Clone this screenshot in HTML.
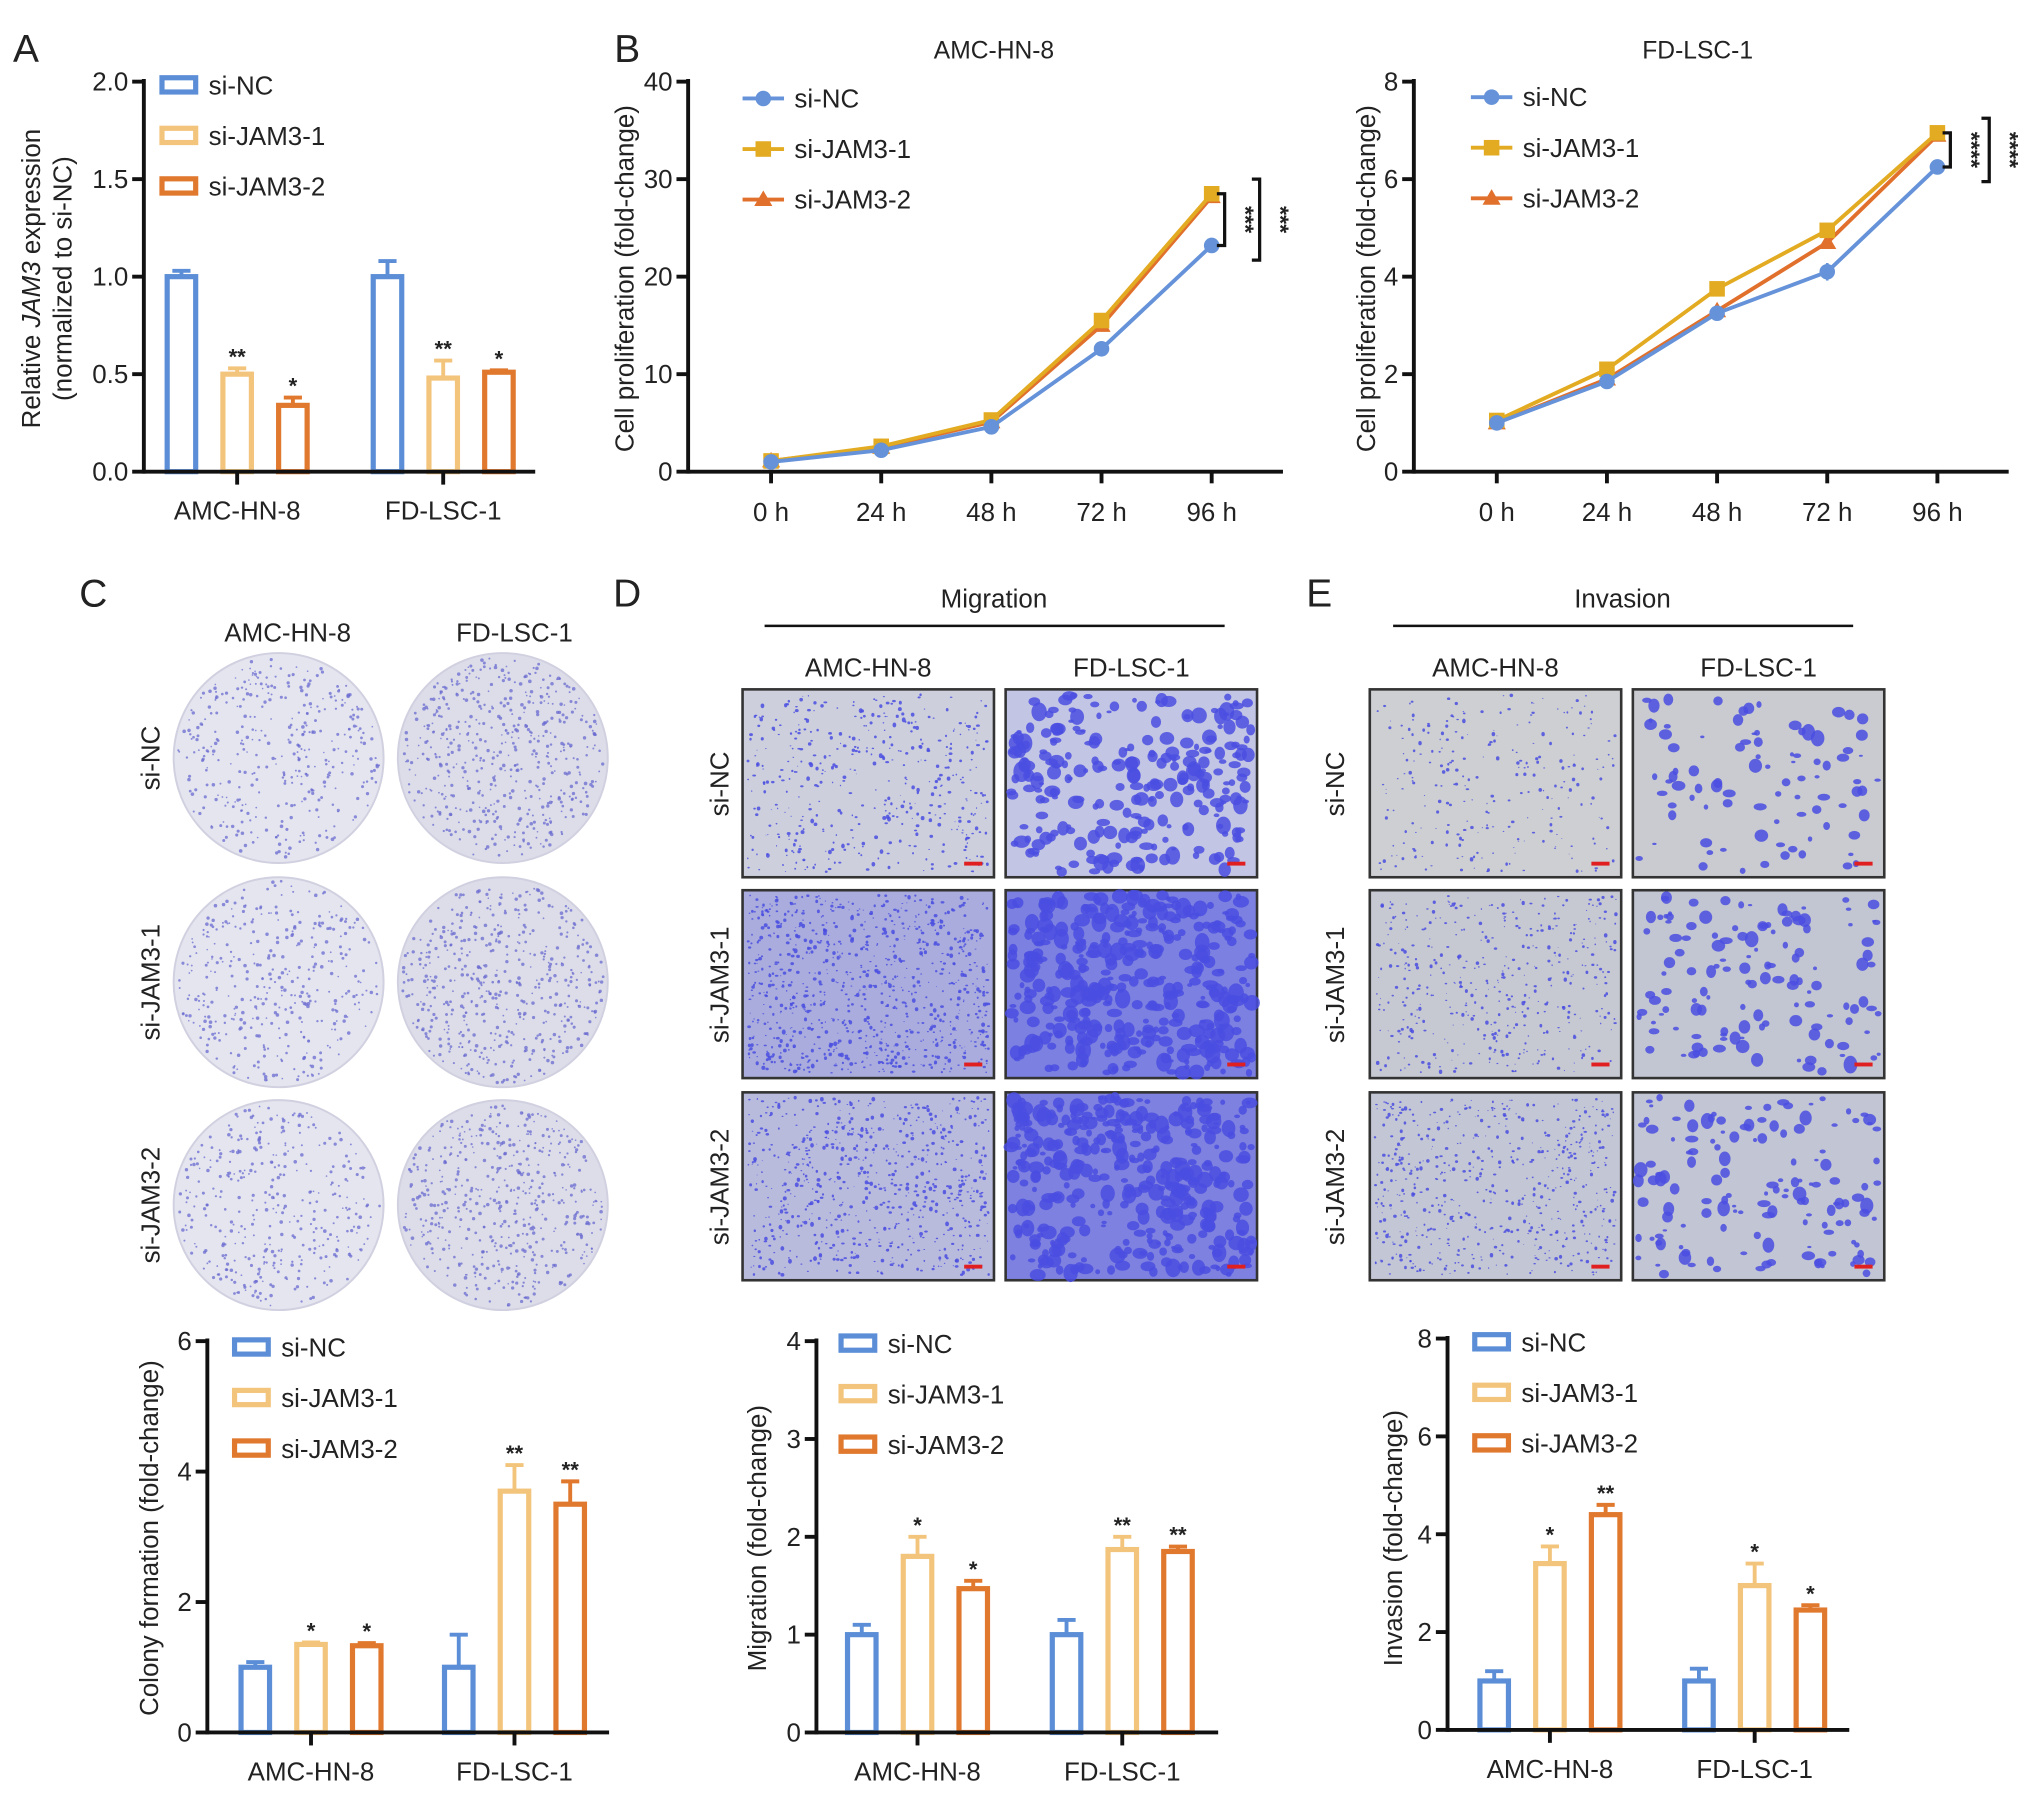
<!DOCTYPE html>
<html><head><meta charset="utf-8"><style>
html,body{margin:0;padding:0;background:#fff}
svg{display:block}
text{font-family:"Liberation Sans",Arial,sans-serif;fill:#222}
</style></head><body>
<svg id="fig" xmlns="http://www.w3.org/2000/svg" width="2032" height="1818" viewBox="0 0 1568 1403" preserveAspectRatio="none">
<rect width="1568" height="1403" fill="#fff"/>
</svg>
<script>
// ---------- DATA ----------
const groups = ["si-NC","si-JAM3-1","si-JAM3-2"];
const cellLines = ["AMC-HN-8","FD-LSC-1"];
// Panel A
const aNC=[1.0,1.0], aJ1=[0.50,0.48], aJ2=[0.34,0.51];
const aErrNC=[1.03,1.08], aErrJ1=[0.53,0.57], aErrJ2=[0.38,0.52];
const aStars=[["","**","*"],["","**","*"]];
const aTicks=["0.0","0.5","1.0","1.5","2.0"];
// Panel B
const timeLabels=["0 h","24 h","48 h","72 h","96 h"];
const bAmcNC=[1.0,2.2,4.6,12.6,23.2], bAmcJ1=[1.1,2.6,5.3,15.5,28.5], bAmcJ2=[1.1,2.5,5.1,15.0,28.2];
const bFdNC=[1.0,1.85,3.25,4.1,6.25], bFdJ1=[1.05,2.1,3.75,4.95,6.95], bFdJ2=[1.0,1.9,3.3,4.7,6.9];
const bFdErrNC=[0.05,0.06,0.07,0.18,0.08];
const bAmcTicks=["0","10","20","30","40"], bFdTicks=["0","2","4","6","8"];
// Panel C bars
const cNC=[1.0,1.0], cJ1=[1.35,3.7], cJ2=[1.33,3.5];
const cErrNC=[1.08,1.5], cErrJ1=[1.38,4.1], cErrJ2=[1.37,3.85];
const cStars=[["","*","*"],["","**","**"]];
const cTicks=["0","2","4","6"];
// Panel D bars
const dNC=[1.0,1.0], dJ1=[1.8,1.87], dJ2=[1.47,1.85];
const dErrNC=[1.1,1.15], dErrJ1=[2.0,2.0], dErrJ2=[1.55,1.9];
const dStars=[["","*","*"],["","**","**"]];
const dTicks=["0","1","2","3","4"];
// Panel E bars
const eNC=[1.0,1.0], eJ1=[3.4,2.95], eJ2=[4.4,2.45];
const eErrNC=[1.2,1.25], eErrJ1=[3.75,3.4], eErrJ2=[4.6,2.55];
const eStars=[["","*","**"],["","*","*"]];
const eTicks=["0","2","4","6","8"];

const COL=["#5b8ed6","#f3c47c","#e0782e"];
const LCOL=["#6592d8","#e2ab22","#e0702c"];
const svg=document.getElementById('fig');
const NS="http://www.w3.org/2000/svg";

function el(tag,attrs,parent){
  const e=document.createElementNS(NS,tag);
  for(const k in attrs)e.setAttribute(k,attrs[k]);
  (parent||svg).appendChild(e);return e;
}
function txt(s,x,y,size,name,opts){
  opts=opts||{};
  const t=el('text',{x:x,y:y,'font-size':size,'text-anchor':opts.anchor||'middle'},opts.parent);
  if(opts.rot)t.setAttribute('transform',`rotate(${opts.rot} ${x} ${y})`);
  if(opts.weight)t.setAttribute('font-weight',opts.weight);
  t.textContent=s;
  
  
  return t;
}
function line(x1,y1,x2,y2,w,c,name,parent){
  const l=el('line',{x1:x1,y1:y1,x2:x2,y2:y2,stroke:c||'#111','stroke-width':w||3},parent);
  
  
  return l;
}
function group(name){
  const g=el('g',{});
  
  
  return g;
}

// ---------- BAR CHART ----------
function barChart(o){
  const g=group(o.name);
  const ys=v=>o.yBot-(v/o.ymax)*(o.yBot-o.yTop);
  const series=[o.nc,o.j1,o.j2], errs=[o.eNC,o.eJ1,o.eJ2];
  for(let s=0;s<3;s++){
    const ly=o.legY+s*o.legDy;
    const r=el('rect',{x:o.legX,y:ly-6,width:26,height:11,fill:'#fff',stroke:COL[s],'stroke-width':4},g);
    
    
    txt(groups[s],o.legX+36,ly+7,20,'legend-label-'+groups[s],{anchor:'start',parent:g});
  }
  for(let c=0;c<2;c++){
    for(let s=0;s<3;s++){
      const cx=o.cx[c]+(s-1)*43;
      const top=ys(series[s][c]);
      const et=ys(errs[s][c]);
      line(cx,top,cx,et,3,COL[s],'error-bar',g);
      line(cx-7,et,cx+7,et,3,COL[s],'error-cap',g);
      const b=el('rect',{x:cx-11,y:top,width:22,height:o.yBot-top,fill:'#fff',stroke:COL[s],'stroke-width':4},g);
      
      
      const st=o.stars[c][s];
      if(st)txt(st,cx,et-3,17,'significance-stars',{parent:g,weight:'bold'});
    }
    line(o.cx[c],o.yBot,o.cx[c],o.yBot+10,3,'#111','x-tick',g);
    txt(cellLines[c],o.cx[c],o.yBot+37,20,'x-tick-label',{parent:g});
  }
  line(o.x0,o.yTop-2,o.x0,o.yBot+1.5,3,'#111','y-axis',g);
  line(o.x0,o.yBot,o.xEnd,o.yBot,3,'#111','x-axis',g);
  o.ticks.forEach((t,i)=>{
    const v=parseFloat(t), y=ys(v);
    line(o.x0-9,y,o.x0,y,3,'#111','y-tick',g);
    txt(t,o.x0-12,y+7,20,'y-tick-label',{anchor:'end',parent:g});
  });
  return g;
}

// ---------- LINE CHART ----------
function lineChart(o){
  const g=group(o.name);
  const ys=v=>o.yBot-(v/o.ymax)*(o.yBot-o.yTop);
  const xs=i=>o.xStart+i*o.dx;
  txt(o.title,o.titleX,45,19,'chart-title',{parent:g});
  line(o.x0,o.yTop-2,o.x0,o.yBot+1.5,3,'#111','y-axis',g);
  line(o.x0,o.yBot,o.xEnd,o.yBot,3,'#111','x-axis',g);
  o.ticks.forEach(t=>{
    const y=ys(parseFloat(t));
    line(o.x0-9,y,o.x0,y,3,'#111','y-tick',g);
    txt(t,o.x0-12,y+7,20,'y-tick-label',{anchor:'end',parent:g});
  });
  timeLabels.forEach((t,i)=>{
    line(xs(i),o.yBot,xs(i),o.yBot+9,3,'#111','x-tick',g);
    txt(t,xs(i),o.yBot+38,20,'x-tick-label',{parent:g});
  });
  const ser=[o.nc,o.j1,o.j2];
  for(let s=2;s>=0;s--){
    const pts=ser[s].map((v,i)=>xs(i)+','+ys(v)).join(' ');
    const p=el('polyline',{points:pts,fill:'none',stroke:LCOL[s],'stroke-width':3},g);
    
    
    ser[s].forEach((v,i)=>marker(s,xs(i),ys(v),g));
  }
  if(o.errNC){o.errNC.forEach((e,i)=>{const v=o.nc[i];line(xs(i),ys(v-e),xs(i),ys(v+e),2,LCOL[0],'error-bar',g);});}
  for(let s=0;s<3;s++){
    const ly=o.legY+s*39;
    line(o.legX,ly,o.legX+32,ly,3,LCOL[s],'legend-line',g);
    marker(s,o.legX+16,ly,g);
    txt(groups[s],o.legX+40,ly+7,20,'legend-label-'+groups[s],{anchor:'start',parent:g});
  }
  o.brackets.forEach(b=>{
    const y1=ys(b.a), y2=ys(b.b);
    const pth=el('path',{d:`M${b.x-6},${y1} H${b.x} V${y2} H${b.x-6}`,fill:'none',stroke:'#111','stroke-width':2.5},g);
    
    
    txt(b.s,b.x+10,(y1+y2)/2,18,'significance-stars',{rot:90,parent:g,weight:'bold'});
  });
}
function marker(s,x,y,g){
  let m;
  if(s===0)m=el('circle',{cx:x,cy:y,r:6,fill:LCOL[0]},g);
  else if(s===1)m=el('rect',{x:x-6,y:y-6,width:12,height:12,fill:LCOL[1]},g);
  else m=el('polygon',{points:`${x},${y-7} ${x+7},${y+5} ${x-7},${y+5}`,fill:LCOL[2]},g);
  
  
}

// ---------- PANEL LETTERS ----------
[["A",20,48],["B",484,48],["C",72,468],["D",484,468],["E",1018,468]].forEach(p=>txt(p[0],p[1],p[2],30,'panel-label-'+p[0]));

// Panel A
barChart({name:'panel-a-chart',x0:111,yTop:63,yBot:364,xEnd:413,ymax:2,ticks:aTicks,cx:[183,342],
  nc:aNC,j1:aJ1,j2:aJ2,eNC:aErrNC,eJ1:aErrJ1,eJ2:aErrJ2,stars:aStars,legX:125,legY:66,legDy:39});
{const t=txt('',31,215,20,'y-axis-title',{rot:-90});
 t.innerHTML='Relative <tspan font-style="italic">JAM3</tspan> expression';
 txt('(normalized to si-NC)',55,215,20,'y-axis-title-line2',{rot:-90});}

// Panel B
lineChart({name:'panel-b-amc-chart',title:'AMC-HN-8',titleX:767,x0:531,yTop:63,yBot:364,xEnd:990,ymax:40,ticks:bAmcTicks,
  xStart:595,dx:85,nc:bAmcNC,j1:bAmcJ1,j2:bAmcJ2,legX:573,legY:76,
  brackets:[{x:945,a:bAmcJ1[4],b:bAmcNC[4],s:'***'},{x:972,a:bAmcJ1[4]+1.5,b:bAmcNC[4]-1.5,s:'***'}]});
txt('Cell proliferation (fold-change)',489,215,20,'y-axis-title',{rot:-90});
lineChart({name:'panel-b-fd-chart',title:'FD-LSC-1',titleX:1310,x0:1091,yTop:63,yBot:364,xEnd:1550,ymax:8,ticks:bFdTicks,
  xStart:1155,dx:85,nc:bFdNC,j1:bFdJ1,j2:bFdJ2,errNC:bFdErrNC,legX:1135,legY:75,
  brackets:[{x:1505,a:bFdJ1[4],b:bFdNC[4],s:'****'},{x:1535,a:bFdJ1[4]+0.3,b:bFdNC[4]-0.3,s:'****'}]});
txt('Cell proliferation (fold-change)',1061,215,20,'y-axis-title',{rot:-90});

// ---------- PHOTOS ----------
let seed=7;function rnd(){seed=(seed*16807)%2147483647;return seed/2147483647;}
const rows=["si-NC","si-JAM3-1","si-JAM3-2"];
txt('AMC-HN-8',222,495,20,'col-label');txt('FD-LSC-1',397,495,20,'col-label');
[585,758,930].forEach((cy,r)=>{
  txt(rows[r],123,cy,20,'row-label',{rot:-90});
  [215,388].forEach((cx,c)=>{
    const g=group('colony-plate-'+cellLines[c]+'-'+rows[r]);
    el('circle',{cx:cx,cy:cy,r:81,fill:c?'#dcdde8':'#e4e5ee',stroke:'#d0d0e0','stroke-width':1.5},g);
    const n=c?520:380;
    for(let i=0;i<n;i++){const a=rnd()*6.283,d=Math.sqrt(rnd())*78;
      el('circle',{cx:cx+Math.cos(a)*d,cy:cy+Math.sin(a)*d,r:0.6+rnd()*0.8,fill:'#6a6ad0','fill-opacity':0.75},g);}
  });
});
function photoGrid(x0s,label,titleX,lineX1,lineX2,rowX,bases,dens,blob,prefix){
  txt(label,titleX,469,20,'section-title');
  line(lineX1,483,lineX2,483,2,'#111','section-rule');
  txt('AMC-HN-8',x0s[0]+97,522,20,'col-label');txt('FD-LSC-1',x0s[1]+97,522,20,'col-label');
  [532,687,843].forEach((y0,r)=>{
    txt(rows[r],rowX,y0+73,20,'row-label',{rot:-90});
    x0s.forEach((x0,c)=>{
      const g=group(prefix+'-photo-'+cellLines[c]+'-'+rows[r]);
      el('rect',{x:x0,y:y0,width:194,height:145,fill:bases[c][r],stroke:'#333','stroke-width':2},g);
      const n=dens[c][r];
      for(let i=0;i<n;i++){
        const rr=blob[c]*(0.4+rnd());
        el('ellipse',{cx:x0+4+rnd()*186,cy:y0+4+rnd()*137,rx:rr,ry:rr*(0.5+rnd()*0.8),fill:'#4a4ee0','fill-opacity':0.85},g);
      }
      el('rect',{x:x0+171,y:y0+133,width:14,height:3,fill:'#e02020'},g);
    });
  });
}
photoGrid([573,776],'Migration',767,590,945,562,
  [['#cdd0dc','#a9acdc','#b9bbdd'],['#c2c5e4','#7c80e0','#7e81df']],
  [[450,900,700],[260,380,380]],[1.1,4.5],'migration');
photoGrid([1057,1260],'Invasion',1252,1075,1430,1037,
  [['#cdcfd2','#c6c9d2','#c3c6d4'],['#c9cbd0','#c2c5d2','#c2c5d4']],
  [[260,450,600],[90,130,140]],[1.0,3.8],'invasion');

// Bottom bar charts
barChart({name:'panel-c-chart',x0:160,yTop:1035,yBot:1337,xEnd:470,ymax:6,ticks:cTicks,cx:[240,397],
  nc:cNC,j1:cJ1,j2:cJ2,eNC:cErrNC,eJ1:cErrJ1,eJ2:cErrJ2,stars:cStars,legX:181,legY:1040,legDy:39});
txt('Colony formation (fold-change)',122,1187,20,'y-axis-title',{rot:-90});
barChart({name:'panel-d-chart',x0:630,yTop:1035,yBot:1337,xEnd:940,ymax:4,ticks:dTicks,cx:[708,866],
  nc:dNC,j1:dJ1,j2:dJ2,eNC:dErrNC,eJ1:dErrJ1,eJ2:dErrJ2,stars:dStars,legX:649,legY:1037,legDy:39});
txt('Migration (fold-change)',591,1187,20,'y-axis-title',{rot:-90});
barChart({name:'panel-e-chart',x0:1117,yTop:1033,yBot:1335,xEnd:1427,ymax:8,ticks:eTicks,cx:[1196,1354],
  nc:eNC,j1:eJ1,j2:eJ2,eNC:eErrNC,eJ1:eErrJ1,eJ2:eErrJ2,stars:eStars,legX:1138,legY:1036,legDy:39});
txt('Invasion (fold-change)',1082,1187,20,'y-axis-title',{rot:-90});
</script>
</body></html>
